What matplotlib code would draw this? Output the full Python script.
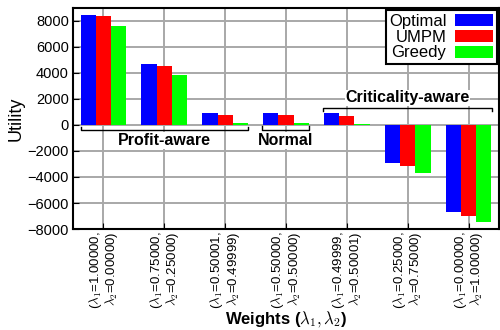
import numpy as np
import matplotlib
matplotlib.use("Agg")
import matplotlib.pyplot as plt
from matplotlib.patches import Patch

plt.rcParams["font.family"] = ["Liberation Sans", "DejaVu Sans"]
plt.rcParams["mathtext.fontset"] = "cm"

## DADOS ##
weights = [
    ("1.00000", "0.00000"),
    ("0.75000", "0.25000"),
    ("0.50001", "0.49999"),
    ("0.50000", "0.50000"),
    ("0.49999", "0.50001"),
    ("0.25000", "0.75000"),
    ("0.00000", "1.00000"),
]
series_names = ["Optimal", "UMPM", "Greedy"]
optimal = [8450, 4690, 920, 920, 900, -2920, -6700]
umpm = [8380, 4540, 770, 750, 700, -3150, -7000]
greedy = [7600, 3850, 150, 120, 100, -3700, -7460]
colors = ["#0000ff", "#ff0000", "#00ff00"]

# grupos anotados: (rotulo, primeiro grupo, ultimo grupo)
groups = [("Profit-aware", 1, 3), ("Normal", 4, 4), ("Criticality-aware", 5, 7)]

fig = plt.figure(figsize=(5, 3.3), dpi=100)
ax = fig.add_axes([0.146, 0.306, 0.852, 0.670])

x = np.arange(1, len(weights) + 1)
width = 0.25
for i, (vals, c) in enumerate(zip([optimal, umpm, greedy], colors)):
    ax.bar(x + (i - 1) * width, vals, width, color=c, zorder=3)

ax.set_xlim(0.5, len(weights) + 0.5)
ax.set_ylim(-8000, 9000)
ax.set_yticks(np.arange(-8000, 8001, 2000))
ax.set_xticks(x)
labels = [f"($\\lambda_1$={a},\n$\\lambda_2$={b})" for a, b in weights]
ax.set_xticklabels(labels, rotation=90, fontsize=9.5, multialignment="right",
                   linespacing=0.95)
ax.tick_params(axis="y", labelsize=10.5, direction="in", length=4, pad=3)
ax.tick_params(axis="x", direction="in", length=4, pad=2)
ax.grid(True, color="#a8a8a8", linewidth=1.4, zorder=0)
for s in ax.spines.values():
    s.set_linewidth(1.5)

ax.set_ylabel("Utility", fontsize=13, labelpad=2)
ax.set_xlabel("Weights ($\\lambda_1, \\lambda_2$)", fontsize=12,
              fontweight="bold", labelpad=0)

# colchetes das anotacoes
def bracket(x0, x1, y, dy, label, ty):
    ax.plot([x0, x0, x1, x1], [y + dy, y, y, y + dy], color="black", lw=1, zorder=4)
    ax.text((x0 + x1) / 2, ty, label, ha="center", va="center", fontsize=11.5,
            fontweight="bold", zorder=5,
            bbox=dict(facecolor="white", edgecolor="none", pad=0.5))

name, a, b = groups[0]
bracket(a - 0.37, b + 0.37, -380, 250, name, -1200)
name, a, b = groups[1]
bracket(a - 0.4, b + 0.37, -350, 250, name, -1200)
name, a, b = groups[2]
bracket(a - 0.4, b + 0.39, 1300, -250, name, 2100)

handles = [Patch(facecolor=c, edgecolor="none") for c in colors]
leg = ax.legend(handles, series_names, loc="upper right", markerfirst=False,
                fontsize=12, handlelength=2.3, handleheight=0.75,
                borderaxespad=0.15, handletextpad=0.5, labelspacing=0.05,
                borderpad=0.2, fancybox=False, framealpha=1)
leg.get_frame().set_edgecolor("black")
leg.get_frame().set_linewidth(1.5)
for t in leg.get_texts():
    t.set_ha("right")

fig.savefig("out.png", dpi=100)
